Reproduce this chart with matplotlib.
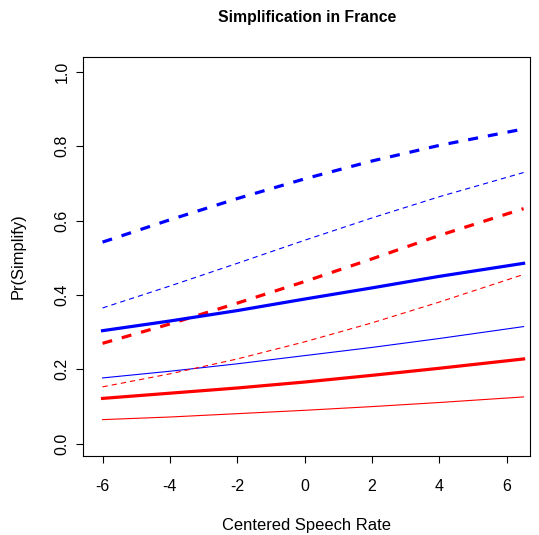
import matplotlib
matplotlib.use("Agg")
import matplotlib.pyplot as plt

plt.rcParams['font.family'] = ['Liberation Sans', 'DejaVu Sans']
plt.rcParams['lines.scale_dashes'] = False

# predicted probabilities over centered speech rate
rate = [-6, -4, -2, 0, 2, 4, 6.5]

blue_dash_thick = [0.542, 0.602, 0.659, 0.712, 0.760, 0.802, 0.846]
blue_dash_thin = [0.365, 0.424, 0.485, 0.547, 0.607, 0.664, 0.729]
red_dash_thick = [0.270, 0.322, 0.378, 0.436, 0.497, 0.560, 0.632]
blue_solid_thick = [0.304, 0.330, 0.358, 0.389, 0.419, 0.450, 0.485]
blue_solid_thin = [0.177, 0.195, 0.215, 0.237, 0.259, 0.283, 0.315]
red_dash_thin = [0.153, 0.188, 0.228, 0.274, 0.325, 0.381, 0.455]
red_solid_thick = [0.122, 0.136, 0.150, 0.166, 0.184, 0.203, 0.228]
red_solid_thin = [0.065, 0.072, 0.081, 0.090, 0.100, 0.111, 0.126]

xticks = [-6, -4, -2, 0, 2, 4, 6]
yticks = [0.0, 0.2, 0.4, 0.6, 0.8, 1.0]

fig = plt.figure(figsize=(5.39, 5.35), dpi=100)
ax = fig.add_axes([0.1546, 0.1482, 0.8287, 0.7453])

thick = 2.3
thin = 0.8
dash_thick = (0, (7.2, 7.2))
dash_thin = (0, (3.8, 2.9))

ax.plot(rate, blue_dash_thick, color='blue', lw=thick, ls=dash_thick)
ax.plot(rate, blue_dash_thin, color='blue', lw=thin, ls=dash_thin)
ax.plot(rate, red_dash_thick, color='red', lw=thick, ls=dash_thick)
ax.plot(rate, blue_solid_thick, color='blue', lw=thick)
ax.plot(rate, blue_solid_thin, color='blue', lw=thin)
ax.plot(rate, red_dash_thin, color='red', lw=thin, ls=dash_thin)
ax.plot(rate, red_solid_thick, color='red', lw=thick)
ax.plot(rate, red_solid_thin, color='red', lw=thin)

ax.set_xlim(-6.57, 6.69)
ax.set_ylim(-0.032, 1.0395)
ax.set_xticks(xticks)
ax.set_xticklabels([str(t) for t in xticks])
ax.set_yticks(yticks)
ax.set_yticklabels(['%.1f' % t for t in yticks], rotation=90, va='center')

ax.tick_params(axis='both', direction='out', length=5, width=0.8, labelsize=11.5)
ax.tick_params(axis='x', pad=12)
ax.tick_params(axis='y', pad=5)
for s in ax.spines.values():
    s.set_linewidth(0.8)

ax.set_xlabel('Centered Speech Rate', fontsize=11.9)
ax.set_ylabel('Pr(Simplify)', fontsize=11.9)
ax.xaxis.set_label_coords(0.5, -0.155)
ax.yaxis.set_label_coords(-0.13, 0.5)
ax.set_title('Simplification in France', fontsize=11.3, fontweight='bold', pad=25)

fig.savefig('out.png', dpi=100)
